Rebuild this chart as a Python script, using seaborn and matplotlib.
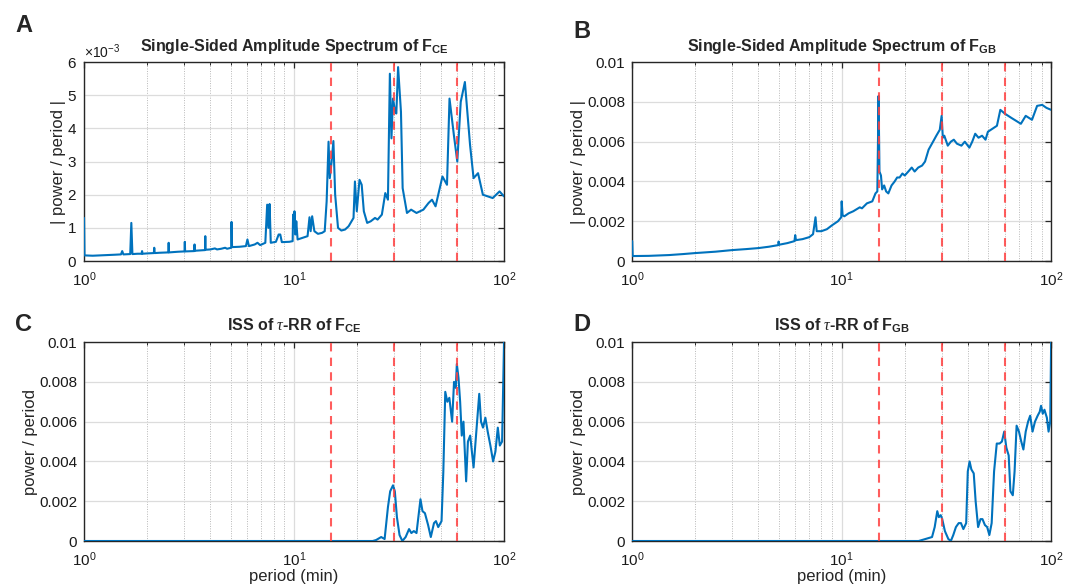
import numpy as np
import pandas as pd
import matplotlib
matplotlib.use("Agg")
import matplotlib.pyplot as plt
import matplotlib.ticker as mticker
import seaborn as sns

# ---------------- data ----------------
# Panel A: single-sided amplitude spectrum of F_CE  (values in units of 1e-3)
a_period = [1.0, 1.005, 1.1, 1.2, 1.3, 1.4, 1.5, 1.52, 1.54, 1.66, 1.68, 1.70, 1.8, 1.88, 1.89, 1.9,
            2.0, 2.15, 2.16, 2.17, 2.3, 2.52, 2.53, 2.54, 2.8, 3.01, 3.02, 3.03, 3.35, 3.36, 3.37,
            3.6, 3.77, 3.78, 3.79, 4.0, 4.2, 4.3, 4.5, 4.7, 4.8, 5.02, 5.04, 5.07, 5.5, 5.9, 6.0,
            6.1, 6.5, 6.7, 6.9, 7.3, 7.45, 7.55, 7.65, 7.75, 8.2, 8.45, 8.6, 8.75, 9.5, 9.85, 9.9,
            9.98, 10.05, 10.15, 10.25, 10.4, 11.0, 11.6, 11.85, 12.0, 12.2, 12.5, 13.0, 13.6, 14.0,
            14.3, 14.6, 14.8, 15.1, 15.4, 15.7, 16.2, 16.8, 17.5, 18.2, 18.6, 19.2, 19.5, 19.9,
            20.5, 21.0, 21.5, 22.3, 23.2, 24.3, 25.0, 26.2, 27.2, 28.0, 28.6, 29.1, 29.6, 30.3,
            30.7, 31.3, 32.3, 32.9, 34.5, 36.1, 38.3, 41.3, 43.7, 45.4, 47.2, 50.9, 53.5, 55.0,
            57.7, 59.9, 62.2, 65.1, 68.9, 71.6, 75.2, 79.3, 88.3, 95.2, 100.0]
a_value_e3 = [1.3, 0.17, 0.16, 0.17, 0.18, 0.19, 0.2, 0.3, 0.2, 0.21, 1.15, 0.21, 0.22, 0.22, 0.3, 0.22,
              0.23, 0.24, 0.4, 0.24, 0.25, 0.26, 0.55, 0.26, 0.28, 0.29, 0.58, 0.29, 0.3, 0.5, 0.31,
              0.32, 0.33, 0.75, 0.34, 0.35, 0.38, 0.35, 0.37, 0.4, 0.37, 0.4, 1.18, 0.42, 0.43, 0.45, 0.65,
              0.45, 0.5, 0.55, 0.48, 0.55, 1.7, 1.0, 1.72, 0.55, 0.58, 0.8, 0.8, 0.57, 0.58, 0.6, 1.4,
              1.0, 1.5, 0.8, 1.2, 0.65, 0.7, 0.75, 1.32, 0.9, 1.35, 0.9, 0.82, 0.85, 0.9,
              1.8, 3.6, 2.5, 3.0, 3.62, 2.0, 1.0, 0.92, 0.95, 1.05, 1.15, 1.3, 2.4, 1.5,
              2.45, 2.3, 1.5, 1.15, 1.2, 1.3, 1.25, 1.4, 2.05, 1.85, 5.65, 3.7, 4.9, 4.5,
              4.45, 5.85, 4.5, 2.2, 1.45, 1.55, 1.45, 1.55, 1.75, 1.85, 1.65, 2.55, 2.3, 4.9,
              3.8, 3.0, 4.8, 5.4, 3.5, 2.5, 2.65, 2.0, 1.9, 2.1, 1.95]

# Panel B: single-sided amplitude spectrum of F_GB  (values in units of 1e-3)
b_period = [1.0, 1.005, 1.2, 1.5, 1.75, 2.0, 2.5, 3.0, 3.5, 4.0, 4.5, 4.98, 5.0, 5.03, 5.5, 5.95, 6.0,
            6.05, 6.5, 7.0, 7.3, 7.5, 7.6, 8.0, 8.5, 9.0, 9.6, 9.95, 10.0, 10.1, 10.3, 10.8, 11.35,
            12.2, 12.5, 13.2, 14.0, 14.5, 14.8, 15.0, 15.15, 15.4, 15.6, 15.95, 16.3, 16.7, 17.3,
            17.9, 18.4, 18.9, 19.5, 20.0, 20.8, 21.6, 22.3, 23.2, 24.2, 25.0, 26.0, 27.3, 28.3,
            29.4, 30.0, 30.4, 30.9, 32.1, 33.2, 34.3, 35.5, 37.3, 38.7, 40.7, 42.0, 43.4, 45.0,
            46.8, 48.6, 49.9, 55.1, 57.2, 60.3, 64.5, 71.7, 75.6, 81.0, 85.7, 90.6, 95.0, 100.0]
b_value_e3 = [1.0, 0.25, 0.26, 0.3, 0.35, 0.4, 0.47, 0.55, 0.6, 0.65, 0.72, 0.8, 0.98, 0.82, 0.9, 1.0, 1.3,
              1.05, 1.1, 1.2, 1.35, 2.2, 1.5, 1.5, 1.6, 1.8, 2.0, 2.2, 3.0, 2.3, 2.25, 2.4, 2.5,
              2.7, 2.65, 2.9, 3.0, 3.4, 3.5, 8.3, 4.5, 4.3, 3.6, 3.8, 3.5, 3.4, 3.8,
              4.0, 4.2, 4.2, 4.4, 4.3, 4.5, 4.7, 4.5, 4.7, 4.8, 5.0, 5.6, 6.0, 6.3,
              6.6, 7.3, 6.2, 6.3, 5.8, 6.0, 6.1, 5.9, 5.8, 6.0, 5.7, 6.0, 6.4, 6.2,
              6.3, 6.1, 6.5, 6.8, 7.6, 7.4, 7.2, 6.9, 7.3, 7.1, 7.8, 7.85, 7.7, 7.6]

# Panel C: ISS of tau-RR of F_CE  (values in units of 1e-3)
c_period = [1.0, 23.7, 24.6, 26.0, 27.0, 28.0, 28.7, 29.6, 30.2, 30.9, 31.8, 32.8, 34.0, 35.3, 36.2,
            37.2, 38.3, 40.0, 40.9, 42.0, 43.5, 44.8, 46.4, 47.4, 48.6, 50.4, 51.4, 52.5, 53.7, 54.9,
            56.6, 57.8, 58.9, 59.6, 60.7, 61.8, 62.9, 64.1, 66.0, 67.3, 69.0, 71.6, 73.8, 76.2, 77.7,
            79.4, 81.5, 83.6, 86.1, 88.7, 91.0, 93.4, 95.5, 97.9, 100.0]
c_value_e3 = [0.0, 0.0, 0.05, 0.2, 0.1, 1.7, 2.5, 2.8, 2.5, 1.2, 0.3, 0.0, 0.2, 0.6, 0.4,
              0.5, 0.4, 2.1, 1.5, 1.4, 0.8, 0.2, 0.9, 1.0, 0.7, 1.0, 3.5, 7.5, 7.0, 7.2,
              6.0, 8.0, 7.7, 8.9, 8.2, 7.0, 5.3, 6.0, 3.0, 5.0, 5.3, 3.7, 5.5, 7.4, 6.0,
              5.7, 6.2, 5.5, 4.8, 4.0, 4.5, 5.7, 4.8, 5.0, 10.0]

# Panel D: ISS of tau-RR of F_GB  (values in units of 1e-3)
d_period = [1.0, 23.3, 25.1, 27.0, 27.8, 28.6, 29.1, 29.7, 30.2, 31.1, 32.3, 33.2, 34.1, 35.1, 36.2,
            37.1, 38.1, 39.3, 40.0, 40.8, 41.6, 42.7, 43.6, 44.8, 46.0, 47.0, 48.3, 49.5, 50.7, 52.0,
            53.4, 55.0, 56.7, 58.2, 59.7, 61.1, 62.7, 63.9, 65.6, 66.9, 68.4, 70.2, 72.0, 73.7, 75.6,
            77.6, 79.4, 81.5, 83.7, 86.2, 88.2, 89.5, 91.2, 92.9, 95.4, 97.2, 99.0, 100.0]
d_value_e3 = [0.0, 0.0, 0.1, 0.2, 0.7, 1.5, 1.2, 1.3, 1.1, 0.5, 0.1, 0.0, 0.3, 0.7, 0.9,
              0.9, 0.6, 0.9, 3.5, 4.0, 3.6, 3.4, 2.0, 0.7, 1.1, 1.1, 0.8, 0.7, 0.3, 0.9,
              3.5, 4.9, 4.9, 5.0, 5.5, 4.7, 4.3, 2.5, 2.3, 3.5, 5.8, 5.5, 5.0, 4.6, 5.5,
              6.0, 6.3, 5.5, 6.0, 6.3, 6.5, 6.8, 6.4, 6.6, 6.2, 5.5, 6.0, 10.0]

marker_periods = [15, 30, 60]
panel_letters = ["A", "B", "C", "D"]
titles = [r"Single-Sided Amplitude Spectrum of F$_{\mathbf{CE}}$",
          r"Single-Sided Amplitude Spectrum of F$_{\mathbf{GB}}$",
          r"ISS of $\tau$-RR of F$_{\mathbf{CE}}$",
          r"ISS of $\tau$-RR of F$_{\mathbf{GB}}$"]
ylabels = ["| power / period |", "| power / period |", "power / period", "power / period"]
xlabel = "period (min)"

# ---------------- style ----------------
sns.set_style("white")
plt.rcParams["font.family"] = ["Liberation Sans", "DejaVu Sans"]
plt.rcParams["mathtext.fontset"] = "custom"
plt.rcParams["mathtext.rm"] = "Liberation Sans"
plt.rcParams["mathtext.it"] = "Liberation Serif:italic"
plt.rcParams["mathtext.bf"] = "Liberation Sans:bold"

LINE = "#0072BD"
RED = (1.0, 0.25, 0.25)
SPINE = "#262626"

fig = plt.figure(figsize=(10.77, 5.85), dpi=100)
rects = [[0.078, 0.5538, 0.390, 0.340],
         [0.587, 0.5538, 0.389, 0.340],
         [0.078, 0.0752, 0.390, 0.340],
         [0.587, 0.0752, 0.389, 0.340]]
letter_pos = [(0.014, 0.956), (0.532, 0.947), (0.014, 0.446), (0.532, 0.446)]

series = [(a_period, a_value_e3), (b_period, b_value_e3),
          (c_period, c_value_e3), (d_period, d_value_e3)]

for i, (rect, (per, val)) in enumerate(zip(rects, series)):
    ax = fig.add_axes(rect)
    df = pd.DataFrame({"period": per, "value": np.asarray(val) * 1e-3})
    ax.set_xscale("log")
    # grid
    ax.grid(True, which="major", axis="both", color="#dcdcdc", linewidth=0.9, linestyle="-")
    ax.grid(True, which="minor", axis="x", color="#b8b8b8", linewidth=0.7, linestyle=(0, (1, 1.5)))
    ax.set_axisbelow(True)
    sns.lineplot(data=df, x="period", y="value", ax=ax, color=LINE, linewidth=1.5,
                 estimator=None, sort=False, zorder=3)
    for mp in marker_periods:
        ax.axvline(mp, color=RED, linewidth=1.5, linestyle=(0, (4, 3)), alpha=0.85, zorder=4)
    ax.set_xlim(1, 100)
    if i == 0:
        ax.set_ylim(0, 6e-3)
        ax.yaxis.set_major_locator(mticker.MultipleLocator(1e-3))
        fmt = mticker.ScalarFormatter(useMathText=True)
        fmt.set_powerlimits((-3, -3))
        ax.yaxis.set_major_formatter(fmt)
        ax.yaxis.get_offset_text().set_fontsize(10)
        ax.yaxis.get_offset_text().set_color("#555555")
    else:
        ax.set_ylim(0, 0.01)
        ax.yaxis.set_major_locator(mticker.MultipleLocator(0.002))
        ax.yaxis.set_major_formatter(mticker.FuncFormatter(lambda v, _: f"{v:g}"))
    ax.tick_params(which="both", direction="in", top=True, right=True, colors=SPINE,
                   labelcolor="#1a1a1a", labelsize=11)
    ax.tick_params(which="major", length=4.5, width=0.9)
    ax.tick_params(which="minor", length=2.5, width=0.7)
    ax.tick_params(axis="x", which="both", pad=7)
    ax.tick_params(axis="y", which="major", pad=5)
    ax.tick_params(axis="y", which="minor", left=False, right=False)
    for s in ax.spines.values():
        s.set_color(SPINE)
        s.set_linewidth(1.0)
        s.set_visible(True)
    ax.set_title(titles[i], fontsize=11.5, fontweight="bold", pad=8)
    ax.set_ylabel(ylabels[i], fontsize=12, labelpad=0.5)
    if i >= 2:
        ax.set_xlabel(xlabel, fontsize=12, labelpad=0)
    else:
        ax.set_xlabel("")
    fig.text(letter_pos[i][0], letter_pos[i][1], panel_letters[i], fontsize=17,
             fontweight="bold", ha="left", va="center")

fig.savefig("out.png", dpi=100)
